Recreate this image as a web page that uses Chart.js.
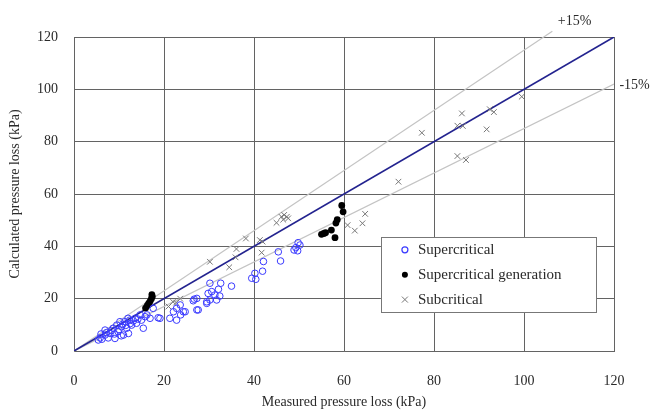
<!DOCTYPE html>
<html>
<head>
<meta charset="utf-8">
<script src="https://cdn.jsdelivr.net/npm/chart.js@4/dist/chart.umd.min.js"></script>
<style>
  html, body { margin: 0; padding: 0; background: #fff; }
  #wrap { width: 656px; height: 415px; }
</style>
</head>
<body>
<div id="wrap"><canvas id="chart" width="656" height="415"></canvas></div>
<script>
// measured / calculated pressure loss (kPa)
const superX = [5.4, 5.8, 6.2, 6.9, 6.9, 7.6, 8.0, 8.7, 9.1, 9.5, 9.8, 10.2, 10.6, 11.0, 11.3, 11.7, 12.1,
  12.4, 12.8, 13.6, 13.9, 14.7, 15.0, 15.4, 15.8, 16.9, 18.7, 17.6, 19.1, 21.3, 22.1, 22.8, 22.8, 23.6,
  23.7, 24.3, 24.7, 26.5, 26.7, 27.3, 27.3, 27.6, 29.5, 29.5, 29.8, 30.2, 30.2, 30.6, 31.3, 31.7, 32.1,
  32.4, 32.6, 35.0, 39.5, 40.2, 40.4, 41.9, 42.1, 45.4, 45.9, 48.9, 49.3, 49.7, 50.2, 49.8,
  6.0, 7.2, 8.3, 9.0, 10.0, 10.5, 10.8, 11.5, 12.0, 12.5, 13.2, 14.2, 16.2];
const superY = [4.2, 5.0, 4.5, 6.1, 8.0, 5.0, 6.7, 8.7, 4.8, 9.9, 7.4, 11.2, 9.3, 6.1, 11.2, 8.7, 6.7,
  11.8, 9.9, 12.5, 10.6, 13.8, 11.8, 8.7, 13.1, 12.5, 12.7, 16.3, 12.5, 12.5, 15.0, 16.3, 11.8, 17.6,
  13.8, 15.0, 15.0, 19.2, 19.8, 20.1, 15.7, 15.7, 18.2, 18.8, 22.0, 19.5, 25.9, 22.7, 21.4, 19.5, 23.6,
  21.0, 25.9, 24.8, 27.8, 29.7, 27.4, 30.5, 34.2, 37.9, 34.4, 38.6, 39.5, 38.3, 40.5, 41.4,
  6.5, 7.0, 7.8, 6.5, 8.2, 5.8, 10.2, 9.8, 12.5, 10.5, 11.5, 12.2, 13.8];

const genX = [15.9, 16.3, 16.6, 16.9, 17.2, 17.4, 17.3, 55.0, 55.5, 55.9, 57.2, 58.0, 58.2, 58.5, 59.8, 59.5];
const genY = [16.4, 17.4, 18.2, 19.0, 20.0, 20.8, 21.5, 44.6, 44.9, 45.2, 46.2, 43.3, 48.9, 50.2, 53.2, 55.6];

const subX = [21.0, 22.0, 22.7, 23.6, 30.2, 34.5, 35.9, 36.1, 38.2, 41.3, 41.7, 41.9, 45.0, 46.1, 46.7,
  47.3, 47.6, 46.5, 60.8, 62.4, 64.1, 64.7, 72.1, 77.3, 85.2, 87.1, 85.2, 86.4, 86.2, 91.7, 92.4, 93.3, 99.5];
const subY = [17.0, 18.8, 18.5, 20.0, 34.1, 32.0, 35.8, 39.0, 43.0, 42.4, 37.6, 41.8, 49.0, 51.3, 52.0,
  51.3, 50.7, 50.2, 48.1, 46.0, 48.8, 52.4, 64.7, 83.4, 74.5, 73.0, 86.1, 86.0, 90.8, 84.7, 92.4, 91.3, 97.2];

const axisTicks = [0, 20, 40, 60, 80, 100, 120];
const seriesNames = ["Supercritical", "Supercritical generation", "Subcritical"];

const toPoints = (xs, ys) => xs.map((x, i) => ({ x: x, y: ys[i] }));

const serif = "'Liberation Serif', 'Times New Roman', serif";
const textColor = "#2a2a2a";
const gridColor = "#636363";

const extras = {
  id: "extras",
  afterDraw(chart) {
    const ctx = chart.ctx;
    const xs = chart.scales.x;
    const ys = chart.scales.y;
    ctx.save();
    ctx.font = "14px " + serif;
    ctx.fillStyle = textColor;
    ctx.textBaseline = "middle";
    ctx.textAlign = "left";
    ctx.fillText("+15%", xs.getPixelForValue(107.5), ys.getPixelForValue(126));
    ctx.fillText("-15%", xs.getPixelForValue(121.2), ys.getPixelForValue(101.5));

    // legend box inside the plot
    const left = xs.getPixelForValue(68.2);
    const right = xs.getPixelForValue(116.0);
    const top = ys.getPixelForValue(43.4);
    const bottom = ys.getPixelForValue(14.9);
    ctx.fillStyle = "#fff";
    ctx.fillRect(left, top, right - left, bottom - top);
    ctx.strokeStyle = "#777";
    ctx.lineWidth = 1;
    ctx.strokeRect(Math.round(left) + 0.5, Math.round(top) + 0.5, Math.round(right - left), Math.round(bottom - top));

    const rowH = (bottom - top) / 3;
    const mx = left + 24;
    seriesNames.forEach((name, i) => {
      const cy = top + rowH * (i + 0.5);
      const ds = chart.data.datasets[i];
      ctx.beginPath();
      if (i === 2) {
        ctx.strokeStyle = ds.borderColor;
        ctx.moveTo(mx - 3, cy - 3); ctx.lineTo(mx + 3, cy + 3);
        ctx.moveTo(mx + 3, cy - 3); ctx.lineTo(mx - 3, cy + 3);
        ctx.stroke();
      } else {
        ctx.arc(mx, cy, 3, 0, Math.PI * 2);
        if (i === 1) { ctx.fillStyle = "#000"; ctx.fill(); }
        else { ctx.strokeStyle = ds.borderColor; ctx.lineWidth = 1.2; ctx.stroke(); }
      }
      ctx.lineWidth = 1;
      ctx.fillStyle = textColor;
      ctx.font = "15px " + serif;
      ctx.fillText(name, mx + 13, cy);
    });
    ctx.restore();
  }
};

new Chart(document.getElementById("chart"), {
  type: "scatter",
  data: {
    datasets: [
      {
        label: seriesNames[0],
        data: toPoints(superX, superY),
        pointStyle: "circle",
        pointRadius: 3.3,
        borderWidth: 1,
        borderColor: "#3a3aff",
        backgroundColor: "rgba(0,0,0,0)"
      },
      {
        label: seriesNames[1],
        data: toPoints(genX, genY),
        pointStyle: "circle",
        pointRadius: 3.4,
        borderWidth: 0,
        borderColor: "#000",
        backgroundColor: "#000"
      },
      {
        label: seriesNames[2],
        data: toPoints(subX, subY),
        pointStyle: "crossRot",
        pointRadius: 4,
        borderWidth: 1,
        borderColor: "#777"
      },
      {
        label: "1:1",
        data: [{ x: 0, y: 0 }, { x: 120, y: 120 }],
        showLine: true,
        pointRadius: 0,
        borderColor: "#23238f",
        borderWidth: 1.6
      },
      {
        label: "+15%",
        data: [{ x: 0, y: 0 }, { x: 106.3, y: 122.2 }],
        showLine: true,
        pointRadius: 0,
        borderColor: "#c4c4c4",
        borderWidth: 1.2,
        clip: false
      },
      {
        label: "-15%",
        data: [{ x: 0, y: 0 }, { x: 120, y: 102 }],
        showLine: true,
        pointRadius: 0,
        borderColor: "#c4c4c4",
        borderWidth: 1.2
      }
    ]
  },
  options: {
    responsive: false,
    animation: false,
    layout: { padding: { left: 0, right: 42, top: 37, bottom: 0 } },
    plugins: {
      legend: { display: false },
      tooltip: { enabled: false }
    },
    scales: {
      x: {
        min: 0, max: 120,
        afterBuildTicks: (s) => { s.ticks = axisTicks.map(v => ({ value: v })); },
        afterFit: (s) => { s.height = 64; },
        grid: { color: gridColor, lineWidth: 1, drawTicks: false },
        border: { color: gridColor, width: 1 },
        ticks: { padding: 22, color: textColor, font: { family: serif, size: 14 } },
        title: {
          display: true, text: "Measured pressure loss (kPa)", color: textColor,
          font: { family: serif, size: 14 }, padding: { top: 0, bottom: 4 }
        }
      },
      y: {
        min: 0, max: 120,
        afterBuildTicks: (s) => { s.ticks = axisTicks.map(v => ({ value: v })); },
        afterFit: (s) => { s.width = 74; },
        grid: { color: gridColor, lineWidth: 1, drawTicks: false },
        border: { color: gridColor, width: 1 },
        ticks: { padding: 16, color: textColor, font: { family: serif, size: 14 } },
        title: {
          display: true, text: "Calculated pressure loss (kPa)", color: textColor,
          font: { family: serif, size: 14 }, padding: { top: 7, bottom: 0 }
        }
      }
    }
  },
  plugins: [extras]
});
</script>
</body>
</html>
